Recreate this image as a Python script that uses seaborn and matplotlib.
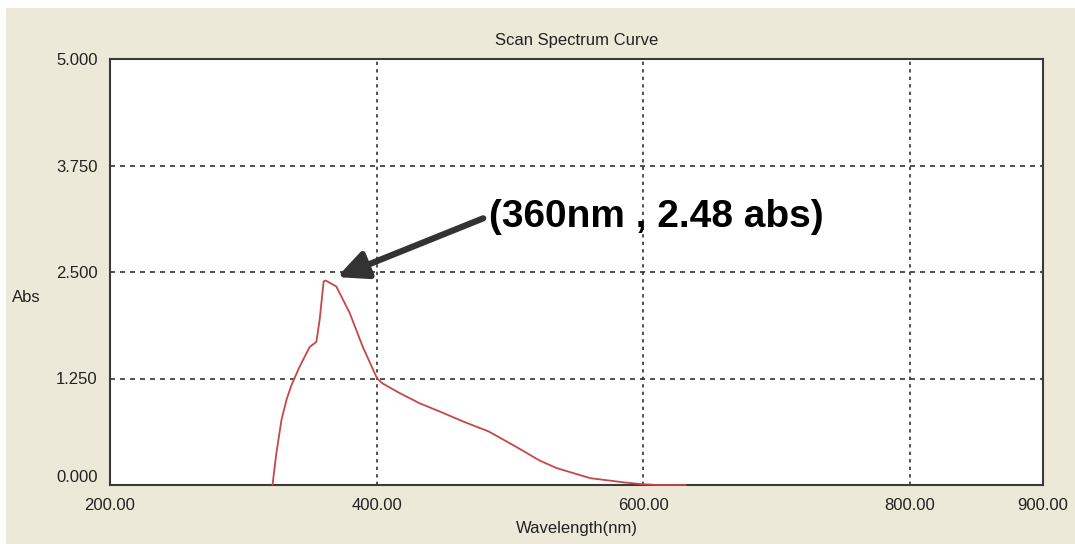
import numpy as np
import matplotlib
matplotlib.use("Agg")
import matplotlib.pyplot as plt
from matplotlib.patches import Rectangle
import seaborn as sns

# 読み取った値
wavelength = [321.9, 324.8, 328.6, 332.4, 336.1, 342.3, 349.8, 354.8, 357.3, 360.3,
              361.8, 369.8, 379.8, 389.7, 400.4, 404.7, 417.2, 432.2, 447.8, 465.8,
              483.9, 504.5, 522.0, 534.8, 560.4, 586.0, 598.8, 610.0, 620.0, 632.0]
absorbance = [0.0, 0.37, 0.76, 1.00, 1.17, 1.39, 1.62, 1.68, 1.94, 2.39,
              2.40, 2.33, 2.02, 1.62, 1.25, 1.19, 1.08, 0.96, 0.86, 0.74,
              0.63, 0.45, 0.29, 0.20, 0.08, 0.03, 0.01, 0.0, 0.0, 0.0]

x_ticks = [200, 400, 600, 800, 900]
x_labels = ["200.00", "400.00", "600.00", "800.00", "900.00"]
y_ticks = [0, 1.25, 2.5, 3.75, 5.0]
y_labels = ["0.000", "1.250", "2.500", "3.750", "5.000"]

peak_label = "(360nm , 2.48 abs)"
peak_xy = (370.4, 2.44)
text_xy = (480.0, 3.13)

sns.set_style("white")
plt.rcParams["font.family"] = ["Liberation Sans", "DejaVu Sans"]

fig = plt.figure(figsize=(10.75, 5.44), dpi=100)
fig.patch.set_facecolor("white")
fig.add_artist(Rectangle((6 / 1075, 0), 1 - 6 / 1075, 1 - 8 / 544,
                         transform=fig.transFigure, facecolor="#ECE9D8",
                         edgecolor="none", zorder=0))

ax = fig.add_axes([110 / 1075, 59 / 544, 933 / 1075, 426 / 544])
ax.set_facecolor("white")

sns.lineplot(x=wavelength, y=absorbance, ax=ax, color="#C44848", lw=1.3,
             estimator=None, zorder=3, clip_on=False)

ax.set_xlim(200, 900)
ax.set_ylim(0, 5)
ax.set_xticks(x_ticks)
ax.set_xticklabels(x_labels)
ax.set_yticks(y_ticks)
ax.set_yticklabels(y_labels)
ax.tick_params(length=0, labelsize=12, colors="#222222", pad=9)
ax.get_yticklabels()[0].set_va("bottom")

# 点線グリッド
for gx in [400, 600, 800]:
    ax.axvline(gx, color="#333333", lw=1.2, ls=(0, (2, 2.5)), zorder=1)
for gy in [1.25, 2.5, 3.75]:
    ax.axhline(gy, color="#333333", lw=1.2, ls=(0, (3, 3)), zorder=1)

for s in ax.spines.values():
    s.set_visible(True)
    s.set_color("#3a3a3a")
    s.set_linewidth(1.5)

ax.set_title("Scan Spectrum Curve", fontsize=12, color="#222222", pad=10)
ax.set_xlabel("Wavelength(nm)", fontsize=12, color="#222222", labelpad=6)
fig.text(12 / 1075, 1 - 298 / 544, "Abs", fontsize=12, color="#222222",
         ha="left", va="center")

ax.annotate("", xy=peak_xy, xytext=text_xy,
            arrowprops=dict(arrowstyle="-|>,head_length=1.8,head_width=0.85",
                            color="#333333", lw=4.5, shrinkA=0, shrinkB=0))
ax.text(484.6, 3.15, peak_label, fontsize=28, fontweight="bold",
        ha="left", va="center", color="black")

plt.savefig("out.png", dpi=100)
